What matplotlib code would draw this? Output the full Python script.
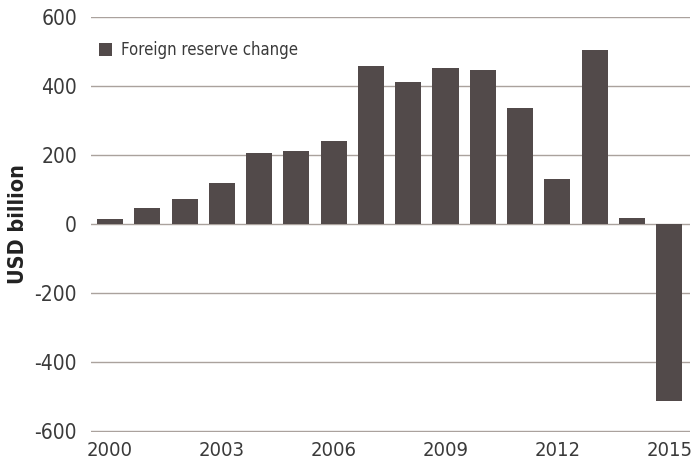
import matplotlib
matplotlib.use("Agg")
import matplotlib.pyplot as plt

# =============================================================================
# Data
# =============================================================================

years = list(range(2000, 2016))
reserve_change = [14, 46, 72, 118, 205, 211, 242, 459, 413, 453,
                  447, 335, 130, 505, 17, -514]
year_ticks = [2000, 2003, 2006, 2009, 2012, 2015]
value_ticks = [-600, -400, -200, 0, 200, 400, 600]

BAR_COLOR = "#524a4a"
GRID_COLOR = "#aaa29d"
TEXT_COLOR = "#3a3a3a"

plt.rcParams["font.family"] = ["DejaVu Sans"]
plt.rcParams["font.stretch"] = "condensed"
plt.rcParams["axes.unicode_minus"] = False

# =============================================================================
# Plot
# =============================================================================

fig = plt.figure(figsize=(6.91, 4.69), dpi=100)
ax = fig.add_axes([91 / 691, 37.3 / 469, 599 / 691, 414.7 / 469])

ax.bar(years, reserve_change, width=0.7, color=BAR_COLOR,
       label="Foreign reserve change", zorder=3)

ax.set_xlim(1999.49, 2015.56)
ax.set_ylim(-601.5, 600)
ax.set_xticks(year_ticks)
ax.set_yticks(value_ticks)
ax.tick_params(axis="both", length=0, labelsize=15, colors=TEXT_COLOR)
ax.tick_params(axis="x", labelsize=14.5, pad=7)
ax.tick_params(axis="y", pad=10)

ax.grid(axis="y", color=GRID_COLOR, linewidth=1.0, zorder=0)
ax.grid(axis="x", visible=False)
for spine in ax.spines.values():
    spine.set_visible(False)

ax.set_ylabel("USD billion", fontsize=15.5, fontweight="bold", color="#222222")
ax.yaxis.set_label_coords(-0.106, 0.5)

ax.legend(loc="center left", bbox_to_anchor=(-0.009, 0.92), frameon=False,
          fontsize=12, handlelength=0.8, handleheight=0.8,
          handletextpad=0.5, borderpad=0.3, labelcolor=TEXT_COLOR)

fig.savefig("out.png", dpi=100)
